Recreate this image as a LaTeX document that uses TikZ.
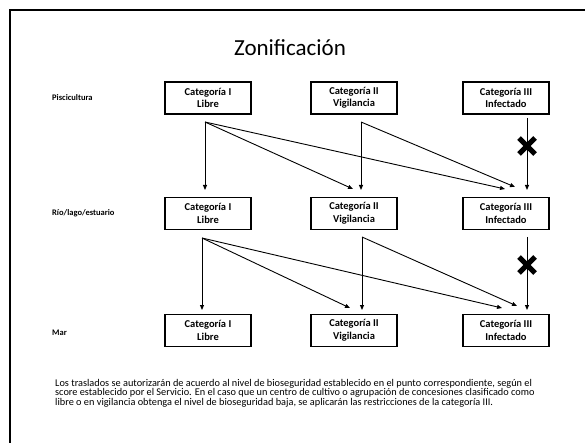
\documentclass[tikz,border=0pt]{standalone}
\usepackage{fontspec}
\setmainfont{Carlito}
\usetikzlibrary{arrows.meta}
\begin{document}
\begin{tikzpicture}[x=1pt,y=-1pt,
  catbox/.style={draw=black,line width=1.3pt,minimum width=86pt,minimum height=32pt,
    align=center,font=\bfseries\fontsize{10.5}{12.5}\selectfont,inner sep=1pt},
  rowlabel/.style={anchor=west,font=\bfseries\fontsize{8.5}{9}\selectfont,inner sep=0pt},
  conn/.style={line width=0.9pt,-{Triangle[length=5pt,width=4pt]}},
  xmark/.style={line width=5pt}]
\useasboundingbox (0,0) rectangle (585,443);
% frame
\draw[line width=2pt] (9.5,443) -- (9.5,10) -- (585,10);
% title
\node[font=\fontsize{23}{26}\selectfont,inner sep=0pt] (title) at (290,48) {Zonificación};
% row labels
\node[rowlabel] (l1) at (52,98) {Piscicultura};
\node[rowlabel] (l2) at (52,213) {Río/lago/estuario};
\node[rowlabel] (l3) at (52,333) {Mar};
% boxes
\node[catbox] (a1) at (208,98) {Categoría I\\Libre};
\node[catbox] (b1) at (354,98) {Categoría II\\Vigilancia};
\node[catbox] (c1) at (506,98) {Categoría III\\Infectado};
\node[catbox] (a2) at (208,213.5) {Categoría I\\Libre};
\node[catbox] (b2) at (354,213.5) {Categoría II\\Vigilancia};
\node[catbox] (c2) at (506,213.5) {Categoría III\\Infectado};
\node[catbox] (a3) at (208,330.5) {Categoría I\\Libre};
\node[catbox] (b3) at (354,330.5) {Categoría II\\Vigilancia};
\node[catbox] (c3) at (506,330.5) {Categoría III\\Infectado};
% connector endpoints, row 1 -> row 2
\coordinate (sa1) at (205,122);
\coordinate (sb1) at (361,122);
\coordinate (sc1) at (527,118);
\coordinate (ta2) at (205,190);
\coordinate (tb2a) at (353,189);
\coordinate (tb2b) at (361,190);
\coordinate (tc2a) at (505,189);
\coordinate (tc2b) at (515,187);
\coordinate (tc2c) at (527,190);
\draw[conn] (sa1) -- (ta2);
\draw[conn] (sa1) -- (tb2a);
\draw[conn] (sa1) -- (tc2a);
\draw[conn] (sb1) -- (tb2b);
\draw[conn] (sb1) -- (tc2b);
\draw[conn] (sc1) -- (tc2c);
% row 2 -> row 3
\coordinate (sa2) at (202,238);
\coordinate (sb2) at (362,237);
\coordinate (sc2) at (527,237);
\coordinate (ta3) at (202,310);
\coordinate (tb3a) at (350,308);
\coordinate (tb3b) at (362,310);
\coordinate (tc3a) at (502,308);
\coordinate (tc3b) at (517,306);
\coordinate (tc3c) at (527,310);
\draw[conn] (sa2) -- (ta3);
\draw[conn] (sa2) -- (tb3a);
\draw[conn] (sa2) -- (tc3a);
\draw[conn] (sb2) -- (tb3b);
\draw[conn] (sb2) -- (tc3b);
\draw[conn] (sc2) -- (tc3c);
% crosses
\foreach \cy in {146,265}{
  \draw[xmark] (519,\cy-8) -- (535,\cy+8);
  \draw[xmark] (519,\cy+8) -- (535,\cy-8);
}
% footnote
\node[anchor=north west,align=left,inner sep=0pt,
  font=\fontsize{10.3}{9.5}\selectfont] (note) at (55,379)
{Los traslados se autorizarán de acuerdo al nivel de bioseguridad establecido en el punto correspondiente, según el\\
score establecido por el Servicio. En el caso que un centro de cultivo o agrupación de concesiones clasificado como\\
libre o en vigilancia obtenga el nivel de bioseguridad baja, se aplicarán las restricciones de la categoría III.};
\end{tikzpicture}
\end{document}
